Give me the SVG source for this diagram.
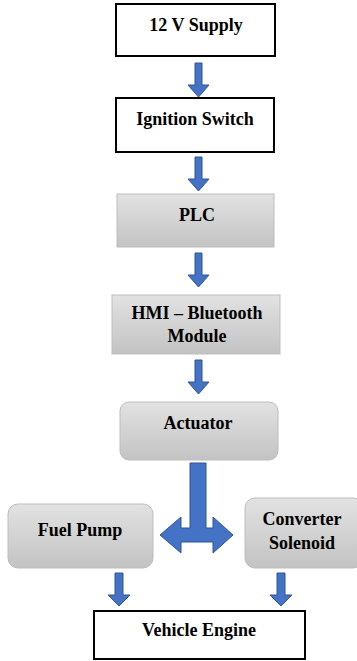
<svg xmlns="http://www.w3.org/2000/svg" width="357" height="661" viewBox="0 0 357 661">
<defs>
<linearGradient id="g" x1="0" y1="0" x2="0" y2="1">
<stop offset="0" stop-color="#e2e2e2"/>
<stop offset="1" stop-color="#c3c3c3"/>
</linearGradient>
</defs>
<style>
.w{fill:#fff;stroke:#000;stroke-width:2}
.gr{fill:url(#g);stroke:#bdbdbd;stroke-width:1}
.t{font-family:"Liberation Serif","Times New Roman",serif;font-weight:bold;font-size:18px;fill:#000;text-anchor:middle}
.a{fill:#4472c4;stroke:#2f5597;stroke-width:1}
</style>
<rect width="357" height="661" fill="#fff"/>
<g id="supply"><rect class="w" x="116" y="4" width="159" height="52"/><text class="t" x="196" y="31">12 V Supply</text></g>
<g id="ignition"><rect class="w" x="116" y="98" width="158" height="54"/><text class="t" x="195" y="125">Ignition Switch</text></g>
<g id="plc"><rect class="gr" x="117" y="194" width="157" height="53"/><text class="t" x="197" y="221">PLC</text></g>
<g id="hmi"><rect class="gr" x="112" y="295" width="168" height="59"/><text class="t" x="197" y="319">HMI – Bluetooth</text><text class="t" x="197" y="342">Module</text></g>
<g id="actuator"><rect class="gr" x="120" y="402" width="158" height="58" rx="9"/><text class="t" x="198" y="429">Actuator</text></g>
<g id="fuelpump"><rect class="gr" x="8" y="504" width="145" height="64" rx="10"/><text class="t" x="80" y="536">Fuel Pump</text></g>
<g id="solenoid"><rect class="gr" x="245" y="498" width="118" height="70" rx="10"/><text class="t" x="302" y="525">Converter</text><text class="t" x="302" y="549">Solenoid</text></g>
<g id="engine"><rect class="w" x="94" y="611" width="211" height="48"/><text class="t" x="199" y="636">Vehicle Engine</text></g>
<g id="connectors">
<path class="a" d="M195,63H202V85H209L198.5,97L188,85H195Z"/>
<path class="a" d="M195,157H202V179H209L198.5,191L188,179H195Z"/>
<path class="a" d="M195,253H202V275H209L198.5,287L188,275H195Z"/>
<path class="a" d="M195,360H202V382H209L198.5,394L188,382H195Z"/>
<path class="a" d="M190,463H206V528H213V517L233,535L213,553V542H181V553L160,535L181,517V528H190Z"/>
<path class="a" d="M115,573H123V595H130L119,606L108,595H115Z"/>
<path class="a" d="M277,573H285V595H292L281,606L270,595H277Z"/>
</g>
</svg>
